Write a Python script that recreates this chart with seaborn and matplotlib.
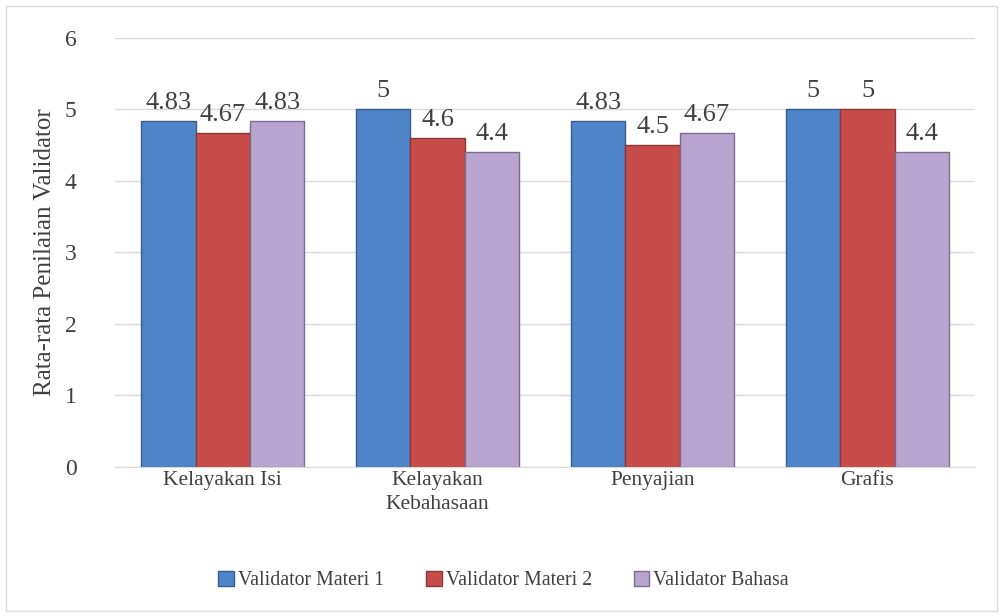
import numpy as np
import pandas as pd
import seaborn as sns
import matplotlib.pyplot as plt
from matplotlib.patches import Rectangle

aspek = ["Kelayakan Isi", "Kelayakan\nKebahasaan", "Penyajian", "Grafis"]
validator = ["Validator Materi 1", "Validator Materi 2", "Validator Bahasa"]
materi1 = [4.83, 5, 4.83, 5]
materi2 = [4.67, 4.6, 4.5, 5]
bahasa = [4.83, 4.4, 4.67, 4.4]
label_nilai = [["4.83", "5", "4.83", "5"],
               ["4.67", "4.6", "4.5", "5"],
               ["4.83", "4.4", "4.67", "4.4"]]

warna = ["#4F84C8", "#C84C4A", "#B8A6D0"]
tepi = ["#385D8A", "#8C3836", "#7E6C96"]

df = pd.DataFrame({
    "aspek": aspek * 3,
    "validator": [v for v in validator for _ in aspek],
    "nilai": materi1 + materi2 + bahasa,
})

sns.set_style("white")
plt.rcParams["font.family"] = ["Liberation Serif", "DejaVu Serif"]

fig = plt.figure(figsize=(10.03, 6.16), dpi=100)
ax = fig.add_axes([0.115, 0.242, 0.857, 0.697])

sns.barplot(data=df, x="aspek", y="nilai", hue="validator", palette=warna,
            width=0.76, gap=0, ax=ax, legend=False, saturation=1)

for i, cont in enumerate(ax.containers):
    for bar in cont:
        bar.set_edgecolor(tepi[i])
        bar.set_linewidth(1.0)
    ax.bar_label(cont, labels=label_nilai[i], padding=5, fontsize=19, color="#404040")

ax.set_ylim(0, 6)
ax.set_yticks(range(0, 7))
ax.yaxis.grid(True, color="#D9D9D9", linewidth=1)
ax.set_axisbelow(True)
for s in ["top", "right", "left"]:
    ax.spines[s].set_visible(False)
ax.spines["bottom"].set_color("#D9D9D9")
ax.tick_params(axis="y", length=0, labelsize=17, labelcolor="#404040", pad=28)
ax.tick_params(axis="x", length=0, labelsize=15.5, labelcolor="#404040", pad=3)
for t in ax.get_xticklabels():
    t.set_linespacing(1.35)
ax.set_xlabel("")
ax.set_ylabel("Rata-rata Penilaian Validator", fontsize=18, color="#404040", labelpad=6)

handles = [Rectangle((0, 0), 1, 1, facecolor=warna[i], edgecolor=tepi[i]) for i in range(3)]
fig.legend(handles, validator, loc="center", bbox_to_anchor=(0.502, 0.058), ncol=3,
           frameon=False, fontsize=14.3, handlelength=0.8, handleheight=0.8,
           handletextpad=0.2, columnspacing=2.1, labelcolor="#404040")

fig.add_artist(Rectangle((0.006, 0.008), 0.988, 0.982, transform=fig.transFigure,
                         fill=False, edgecolor="#D9D9D9", linewidth=1))

fig.savefig("out.png", dpi=100)
